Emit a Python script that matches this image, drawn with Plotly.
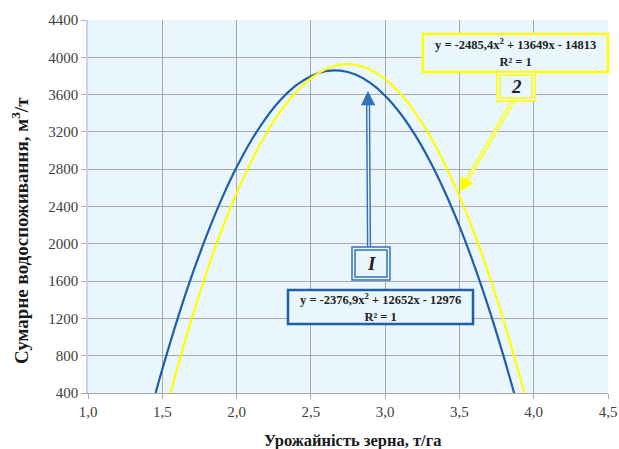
import plotly.graph_objects as go

# ---- data ----
x_blue = [1.455, 1.5, 1.6, 1.7, 1.8, 1.9, 2.0, 2.1, 2.2, 2.3, 2.4, 2.5, 2.6, 2.7,
          2.8, 2.9, 3.0, 3.1, 3.2, 3.3, 3.4, 3.5, 3.6, 3.7, 3.8, 3.868]
y_blue = [400, 654, 1182, 1663, 2096, 2482, 2820, 3111, 3354, 3550, 3698, 3798, 3851, 3857,
          3815, 3725, 3588, 3403, 3171, 2891, 2564, 2189, 1767, 1297, 779, 400]

x_yellow = [1.555, 1.6, 1.7, 1.8, 1.9, 2.0, 2.1, 2.2, 2.3, 2.4, 2.5, 2.6, 2.7, 2.8,
            2.9, 3.0, 3.1, 3.2, 3.3, 3.4, 3.5, 3.6, 3.7, 3.8, 3.9, 3.937]
y_yellow = [400, 663, 1208, 1703, 2148, 2543, 2889, 3186, 3432, 3629, 3776, 3873, 3921, 3919,
            3867, 3765, 3614, 3413, 3163, 2862, 2512, 2113, 1663, 1164, 615, 400]

x_ticks = [1.0, 1.5, 2.0, 2.5, 3.0, 3.5, 4.0, 4.5]
y_ticks = [400, 800, 1200, 1600, 2000, 2400, 2800, 3200, 3600, 4000, 4400]

eq_blue = "y = -2376,9x<sup>2</sup> + 12652x - 12976<br>R² = 1"
eq_yellow = "y = -2485,4x<sup>2</sup> + 13649x - 14813<br>R² = 1"
x_title = "Урожайність зерна, т/га"
y_title = "Сумарне водоспоживання, м<sup>3</sup>/т"

BLUE = "#1F5FAA"
ABLUE = "#3472B8"
YEL = "#FFFF00"
BG = "#EAF6FD"
FONT = "Liberation Serif"

# plot area in page pixels: x 88..608, y 20..393 (body margin removed via post_script)
W, H = 619, 449
PL, PR, PT, PB = 88, 608, 20, 393


def px(xp):
    return (xp - PL) / (PR - PL)


def py(yp):
    return (PB - yp) / (PB - PT)


fig = go.Figure()
fig.add_trace(go.Scatter(x=x_blue, y=y_blue, mode="lines", line=dict(color=BLUE, width=2.2, shape="spline"),
                         showlegend=False, hoverinfo="skip"))
fig.add_trace(go.Scatter(x=x_yellow, y=y_yellow, mode="lines", line=dict(color=YEL, width=2.2, shape="spline"),
                         showlegend=False, hoverinfo="skip"))

shapes = []
annotations = []


def rect(x0, y0, x1, y1, color, width):
    shapes.append(dict(type="rect", xref="paper", yref="paper", x0=px(x0), x1=px(x1), y0=py(y0), y1=py(y1),
                       line=dict(color=color, width=width), fillcolor=BG, layer="above"))


def line(x0, y0, x1, y1, color, width):
    shapes.append(dict(type="line", xref="paper", yref="paper", x0=px(x0), x1=px(x1), y0=py(y0), y1=py(y1),
                       line=dict(color=color, width=width), layer="above"))


def arrow(xs, ys, xe, ye, color):
    # hollow shaft: thick colour + thin background line
    dx, dy = xe - xs, ye - ys
    n = (dx * dx + dy * dy) ** 0.5
    ux, uy = dx / n, dy / n
    sx, sy = xe - ux * 9, ye - uy * 9
    line(xs, ys, sx, sy, color, 4.2)
    line(xs, ys, sx - ux * 1, sy - uy * 1, BG, 1.3)
    annotations.append(dict(xref="x domain", yref="y domain", x=px(xe), y=py(ye),
                            ax=px(xe - ux * 12), ay=py(ye - uy * 12),
                            axref="x domain", ayref="y domain", showarrow=True, arrowhead=2, arrowsize=1.3,
                            arrowwidth=2.2, arrowcolor=color, text=""))


arrow(513, 101, 460, 192, YEL)
arrow(369, 247, 368, 91, ABLUE)

# equation boxes
rect(423, 34, 608, 72, YEL, 2.5)
annotations.append(dict(xref="paper", yref="paper", x=px(515.5), y=py(53), text="<b>" + eq_yellow + "</b>",
                        showarrow=False, xanchor="center", yanchor="middle",
                        font=dict(family=FONT, size=12.5, color="#222"), align="center"))
rect(288, 290, 473, 324, BLUE, 2.5)
annotations.append(dict(xref="paper", yref="paper", x=px(380.5), y=py(307), text="<b>" + eq_blue + "</b>",
                        showarrow=False, xanchor="center", yanchor="middle",
                        font=dict(family=FONT, size=12.5, color="#222"), align="center"))

# label boxes with double border
rect(497, 72, 535, 101, YEL, 1.5)
rect(500, 75, 532, 98, YEL, 1.5)
annotations.append(dict(xref="paper", yref="paper", x=px(516), y=py(86.5), text="<b><i>2</i></b>", showarrow=False,
                        xanchor="center", yanchor="middle", font=dict(family=FONT, size=19, color="#222")))
rect(352, 247, 390, 280, ABLUE, 1.5)
rect(355, 250, 387, 277, ABLUE, 1.5)
annotations.append(dict(xref="paper", yref="paper", x=px(371), y=py(263.5), text="<b><i>I</i></b>", showarrow=False,
                        xanchor="center", yanchor="middle", font=dict(family=FONT, size=19, color="#222")))

# axis titles
annotations.append(dict(xref="paper", yref="paper", x=px(352), y=py(440), text="<b>" + x_title + "</b>",
                        showarrow=False, xanchor="center", yanchor="middle",
                        font=dict(family=FONT, size=16.5, color="#1a1a1a")))
annotations.append(dict(xref="paper", yref="paper", x=px(20), y=py(231), text="<b>" + y_title + "</b>",
                        showarrow=False, textangle=-90, xanchor="center", yanchor="middle",
                        font=dict(family=FONT, size=19, color="#1a1a1a")))

fig.update_layout(
    width=W, height=H, margin=dict(l=PL, r=W - PR, t=PT, b=H - PB),
    paper_bgcolor="white", plot_bgcolor=BG,
    separators=", ",
    shapes=shapes, annotations=annotations,
    font=dict(family=FONT),
)
fig.update_xaxes(range=[1.0, 4.5], tickvals=x_ticks, tickformat=".1f", showgrid=True, gridcolor="#A8A8A8",
                 gridwidth=1.3, showline=True, linecolor="#A8A8A8", linewidth=1.3, ticks="outside", ticklen=5,
                 tickcolor="#A8A8A8", tickfont=dict(family=FONT, size=15, color="#404040"), zeroline=False,
                 automargin=False)
fig.update_yaxes(range=[400, 4400], tickvals=y_ticks, tickformat="d", showgrid=True, gridcolor="#A8A8A8",
                 gridwidth=1.3, showline=True, linecolor="#C9D0F2", linewidth=1.5, ticks="outside", ticklen=5,
                 tickcolor="#A8A8A8", tickfont=dict(family=FONT, size=15, color="#404040"), zeroline=False,
                 automargin=False)

fig.write_html("out.html", config={"displayModeBar": False},
               post_script="document.body.style.margin='0';document.body.style.overflow='hidden';")
